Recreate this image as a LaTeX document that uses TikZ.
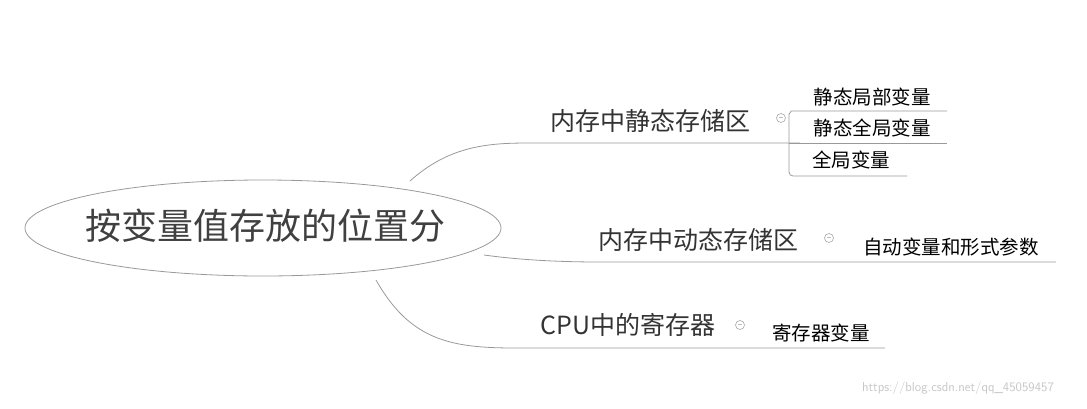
\documentclass[tikz,border=0pt]{standalone}
\usepackage{fontspec}
\usetikzlibrary{shapes.geometric}
\newfontfamily\cjk{Noto Sans CJK SC}
\begin{document}
\begin{tikzpicture}[x=1pt,y=-1pt,
  lin/.style={draw=gray!80,line width=0.8pt},
  big/.style={font=\cjk\fontsize{36}{38}\selectfont,text=black!75},
  mid/.style={font=\cjk\fontsize{25}{27}\selectfont,text=black!80},
  leaf/.style={font=\cjk\fontsize{19.5}{21}\selectfont,text=black},
  tog/.style={circle,draw=gray!70,inner sep=0pt,minimum size=9pt,line width=0.6pt}]
\useasboundingbox (0,0) rectangle (1087,408);
\node[draw=gray!80,ellipse,minimum width=476,minimum height=96,line width=0.8pt] (root) at (263,228) {};
\node[big] (rt) at (265,226) {按变量值存放的位置分};
% branch 1
\coordinate (b1s) at (410,181);
\coordinate (b1a) at (530,143);
\coordinate (b1e) at (800,143);
\draw[lin] (b1s) .. controls (450,145) and (490,143) .. (b1a) -- (b1e);
\node[mid] (n1) at (650,121) {内存中静态存储区};
\node[tog] (t1) at (781,118) {\tiny$-$};
\coordinate (v1) at (789,118);
\coordinate (h1) at (947,111);
\coordinate (h2) at (947,143);
\coordinate (h3) at (907,176);
\draw[lin,rounded corners=4pt] (h1) -- (795,111) to[out=180,in=90] (v1) |- (h3);
\draw[lin] (789,143) -- (h2);
\node[leaf] (l1) at (872,97) {静态局部变量};
\node[leaf] (l2) at (872,128) {静态全局变量};
\node[leaf] (l3) at (851,160) {全局变量};
% branch 2
\coordinate (b2s) at (484,255);
\coordinate (b2a) at (600,262);
\coordinate (b2e) at (1056,262);
\draw[lin] (b2s) .. controls (520,260) and (560,262) .. (b2a) -- (b2e);
\node[mid] (n2) at (698,240) {内存中动态存储区};
\node[tog] (t2) at (829,238) {\tiny$-$};
\node[leaf] (l4) at (951,247) {自动变量和形式参数};
% branch 3
\coordinate (b3s) at (376,280);
\coordinate (b3a) at (515,348);
\coordinate (b3e) at (885,348);
\draw[lin] (b3s) .. controls (410,340) and (450,348) .. (b3a) -- (b3e);
\node[mid] (n3) at (628,325) {CPU中的寄存器};
\node[tog] (t3) at (740,325) {\tiny$-$};
\node[leaf] (l5) at (821,333) {寄存器变量};
\node[font=\fontsize{13}{14}\selectfont\sffamily,text=gray!45] (wm) at (958,388) {https://blog.csdn.net/qq\_45059457};
\end{tikzpicture}
\end{document}
